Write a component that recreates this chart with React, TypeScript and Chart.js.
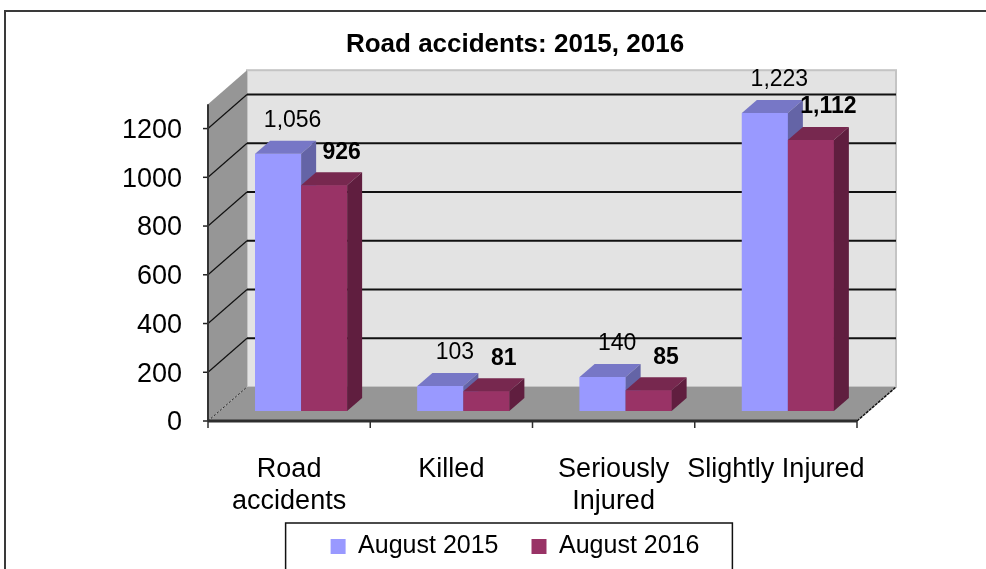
import React, { useEffect, useRef } from 'react';
import { Chart, registerables, CategoryScale, LinearScale } from 'chart.js';

// Scales whose tick labels are not clipped to the scale box (labels sit on the front plane of the 3D frame)
class Category3D extends (CategoryScale as any) {
  static id = 'category3d';
  static defaults = (CategoryScale as any).defaults;
  _computeLabelArea() { return undefined; }
}
class Linear3D extends (LinearScale as any) {
  static id = 'linear3d';
  static defaults = (LinearScale as any).defaults;
  _computeLabelArea() { return undefined; }
}

Chart.register(...registerables, Category3D as any, Linear3D as any);

// ---- data ----
const chartTitle = 'Road accidents: 2015, 2016';
const categories: (string | string[])[] = [['Road', 'accidents'], 'Killed', ['Seriously', 'Injured'], 'Slightly Injured'];
const seriesNames = ['August 2015', 'August 2016'];
const august2015 = [1056, 103, 140, 1223];
const august2016 = [926, 81, 85, 1112];
const yMax = 1300;
const yStep = 200;

// ---- styles ----
const FONT = "'Liberation Sans', Arial, Helvetica, sans-serif";
const frontColors = ['#9999ff', '#993366'];
const topColors = ['#7777c6', '#77284f'];
const sideColors = ['#6464a6', '#601e3f'];
const labelBold = [false, true];
const labelShift = [7, 10];
const FRONT = { dx: -12, dy: 10 };
const BACK = { dx: 27, dy: -24 };
const DEPTH = { dx: 15, dy: -13 };

const threeD = {
  id: 'threeD',
  beforeDraw(chart: any) {
    const ctx = chart.ctx;
    ctx.save();
    ctx.fillStyle = '#ffffff';
    ctx.fillRect(0, 0, chart.width, chart.height);
    ctx.strokeStyle = '#3a3a3a';
    ctx.lineWidth = 2;
    ctx.strokeRect(5, 11, chart.width + 20, chart.height + 20);
    ctx.restore();
  },
  beforeDatasetsDraw(chart: any) {
    const { ctx, chartArea: ca, scales } = chart;
    const y = scales.y;
    const yb = y.getPixelForValue(0);
    const yt = y.getPixelForValue(y.max);
    const L = ca.left, R = ca.right;
    ctx.save();
    // back wall
    ctx.fillStyle = '#e3e3e3';
    ctx.fillRect(L + BACK.dx, yt + BACK.dy, R - L, yb - yt);
    ctx.strokeStyle = '#c4c4c4';
    ctx.lineWidth = 2;
    ctx.strokeRect(L + BACK.dx, yt + BACK.dy, R - L, yb - yt);
    // left wall
    ctx.fillStyle = '#969696';
    ctx.beginPath();
    ctx.moveTo(L + FRONT.dx, yt + FRONT.dy);
    ctx.lineTo(L + BACK.dx, yt + BACK.dy);
    ctx.lineTo(L + BACK.dx, yb + BACK.dy);
    ctx.lineTo(L + FRONT.dx, yb + FRONT.dy);
    ctx.closePath();
    ctx.fill();
    // floor
    ctx.beginPath();
    ctx.moveTo(L + FRONT.dx, yb + FRONT.dy);
    ctx.lineTo(L + BACK.dx, yb + BACK.dy);
    ctx.lineTo(R + BACK.dx, yb + BACK.dy);
    ctx.lineTo(R + FRONT.dx, yb + FRONT.dy);
    ctx.closePath();
    ctx.fill();
    // gridlines
    y.ticks.forEach((t: any) => {
      const py = y.getPixelForValue(t.value);
      if (t.value > 0) {
        ctx.strokeStyle = '#111';
        ctx.lineWidth = 2;
        ctx.beginPath();
        ctx.moveTo(L + BACK.dx, py + BACK.dy);
        ctx.lineTo(R + BACK.dx, py + BACK.dy);
        ctx.stroke();
        ctx.lineWidth = 1.2;
        ctx.setLineDash([]);
      } else {
        ctx.strokeStyle = '#222';
        ctx.lineWidth = 1;
        ctx.setLineDash([2, 2]);
      }
      ctx.beginPath();
      ctx.moveTo(L + FRONT.dx, py + FRONT.dy);
      ctx.lineTo(L + BACK.dx, py + BACK.dy);
      ctx.stroke();
      ctx.setLineDash([]);
      // tick mark on front axis
      ctx.strokeStyle = '#222';
      ctx.lineWidth = 1.5;
      ctx.beginPath();
      ctx.moveTo(L + FRONT.dx - 5, py + FRONT.dy);
      ctx.lineTo(L + FRONT.dx, py + FRONT.dy);
      ctx.stroke();
    });
    // floor right edge
    ctx.strokeStyle = '#111';
    ctx.lineWidth = 1.5;
    ctx.setLineDash([3, 1]);
    ctx.beginPath();
    ctx.moveTo(R + FRONT.dx, yb + FRONT.dy);
    ctx.lineTo(R + BACK.dx, yb + BACK.dy);
    ctx.stroke();
    ctx.setLineDash([]);
    // front vertical axis
    ctx.strokeStyle = '#333';
    ctx.lineWidth = 2;
    ctx.beginPath();
    ctx.moveTo(L + FRONT.dx, yt + FRONT.dy);
    ctx.lineTo(L + FRONT.dx, yb + FRONT.dy);
    ctx.stroke();
    // front horizontal axis
    ctx.lineWidth = 3;
    ctx.strokeStyle = '#2e2e2e';
    ctx.beginPath();
    ctx.moveTo(L + FRONT.dx, yb + FRONT.dy);
    ctx.lineTo(R + FRONT.dx, yb + FRONT.dy);
    ctx.stroke();
    const n = categories.length;
    ctx.lineWidth = 1.5;
    for (let i = 0; i <= n; i++) {
      const px = L + FRONT.dx + ((R - L) * i) / n;
      ctx.beginPath();
      ctx.moveTo(px, yb + FRONT.dy);
      ctx.lineTo(px, yb + FRONT.dy + 7);
      ctx.stroke();
    }
    ctx.restore();
  },
  afterDatasetsDraw(chart: any) {
    const ctx = chart.ctx;
    const metas = [chart.getDatasetMeta(0), chart.getDatasetMeta(1)];
    ctx.save();
    for (let i = 0; i < categories.length; i++) {
      metas.forEach((meta: any, d: number) => {
        const el = meta.data[i];
        el.draw(ctx);
        const { x, y, base, width } = el.getProps(['x', 'y', 'base', 'width'], true);
        const l = x - width / 2, r = x + width / 2;
        ctx.fillStyle = topColors[d];
        ctx.beginPath();
        ctx.moveTo(l, y);
        ctx.lineTo(l + DEPTH.dx, y + DEPTH.dy);
        ctx.lineTo(r + DEPTH.dx, y + DEPTH.dy);
        ctx.lineTo(r, y);
        ctx.closePath();
        ctx.fill();
        ctx.fillStyle = sideColors[d];
        ctx.beginPath();
        ctx.moveTo(r, y);
        ctx.lineTo(r + DEPTH.dx, y + DEPTH.dy);
        ctx.lineTo(r + DEPTH.dx, base + DEPTH.dy);
        ctx.lineTo(r, base);
        ctx.closePath();
        ctx.fill();
      });
    }
    // data labels
    metas.forEach((meta: any, d: number) => {
      const data = chart.data.datasets[d].data;
      meta.data.forEach((el: any, i: number) => {
        const { x, y } = el.getProps(['x', 'y'], true);
        ctx.font = `${labelBold[d] ? 'bold ' : ''}23px ${FONT}`;
        ctx.fillStyle = '#000';
        ctx.textAlign = 'center';
        ctx.textBaseline = 'middle';
        ctx.fillText(Number(data[i]).toLocaleString('en-US'), x + DEPTH.dx / 2 + labelShift[d], y + DEPTH.dy - 20);
      });
    });
    ctx.restore();
  },
  afterDraw(chart: any) {
    const lg = chart.legend;
    if (!lg || !lg.legendHitBoxes || !lg.legendHitBoxes.length) return;
    const hb = lg.legendHitBoxes;
    const first = hb[0];
    const last = hb[hb.length - 1];
    const ctx = chart.ctx;
    ctx.save();
    ctx.strokeStyle = '#111';
    ctx.lineWidth = 1.5;
    ctx.strokeRect(first.left - 45, lg.top + 22, last.left + last.width + 33 - (first.left - 45), 80);
    ctx.restore();
  },
};

export default function App() {
  const ref = useRef<HTMLCanvasElement | null>(null);
  useEffect(() => {
    if (!ref.current) return;
    const chart = new Chart(ref.current, {
      type: 'bar',
      data: {
        labels: categories,
        datasets: [
          { label: seriesNames[0], data: august2015, backgroundColor: frontColors[0], borderWidth: 0 },
          { label: seriesNames[1], data: august2016, backgroundColor: frontColors[1], borderWidth: 0 },
        ],
      },
      options: {
        responsive: false,
        animation: false,
        layout: { padding: { left: 161, right: 117, top: 0, bottom: 0 } },
        datasets: { bar: { categoryPercentage: 0.567, barPercentage: 1 } },
        font: { family: FONT },
        plugins: {
          title: {
            display: true,
            text: chartTitle,
            color: '#000',
            font: { family: FONT, size: 26, weight: 'bold' },
            padding: { top: 29, bottom: 34 },
          },
          legend: {
            position: 'bottom',
            labels: {
              color: '#000',
              boxWidth: 15,
              boxHeight: 15,
              padding: 33,
              font: { family: FONT, size: 25 },
            },
          },
          tooltip: { enabled: false },
        },
        scales: {
          x: {
            type: 'category3d',
            grid: { display: false, drawTicks: false },
            border: { display: false },
            ticks: {
              color: '#000',
              font: { family: FONT, size: 27 },
              padding: 42,
              labelOffset: FRONT.dx,
              maxRotation: 0,
              minRotation: 0,
              autoSkip: false,
            },
            afterFit: (s: any) => { s.height = 90; },
          },
          y: {
            type: 'linear3d',
            min: 0,
            max: yMax,
            grid: { display: false, drawTicks: false },
            border: { display: false },
            ticks: {
              stepSize: yStep,
              includeBounds: false,
              color: '#000',
              font: { family: FONT, size: 27 },
              padding: 38,
              labelOffset: 12,
              callback: (v: any) => String(v),
            },
            afterFit: (s: any) => { s.width = 59; },
          },
        },
      } as any,
      plugins: [threeD],
    });
    return () => chart.destroy();
  }, []);
  return (
    <div style={{ position: 'fixed', left: 0, top: 0, width: 986, height: 569, background: '#fff' }}>
      <canvas ref={ref} width={986} height={569} style={{ display: 'block' }} />
    </div>
  );
}
